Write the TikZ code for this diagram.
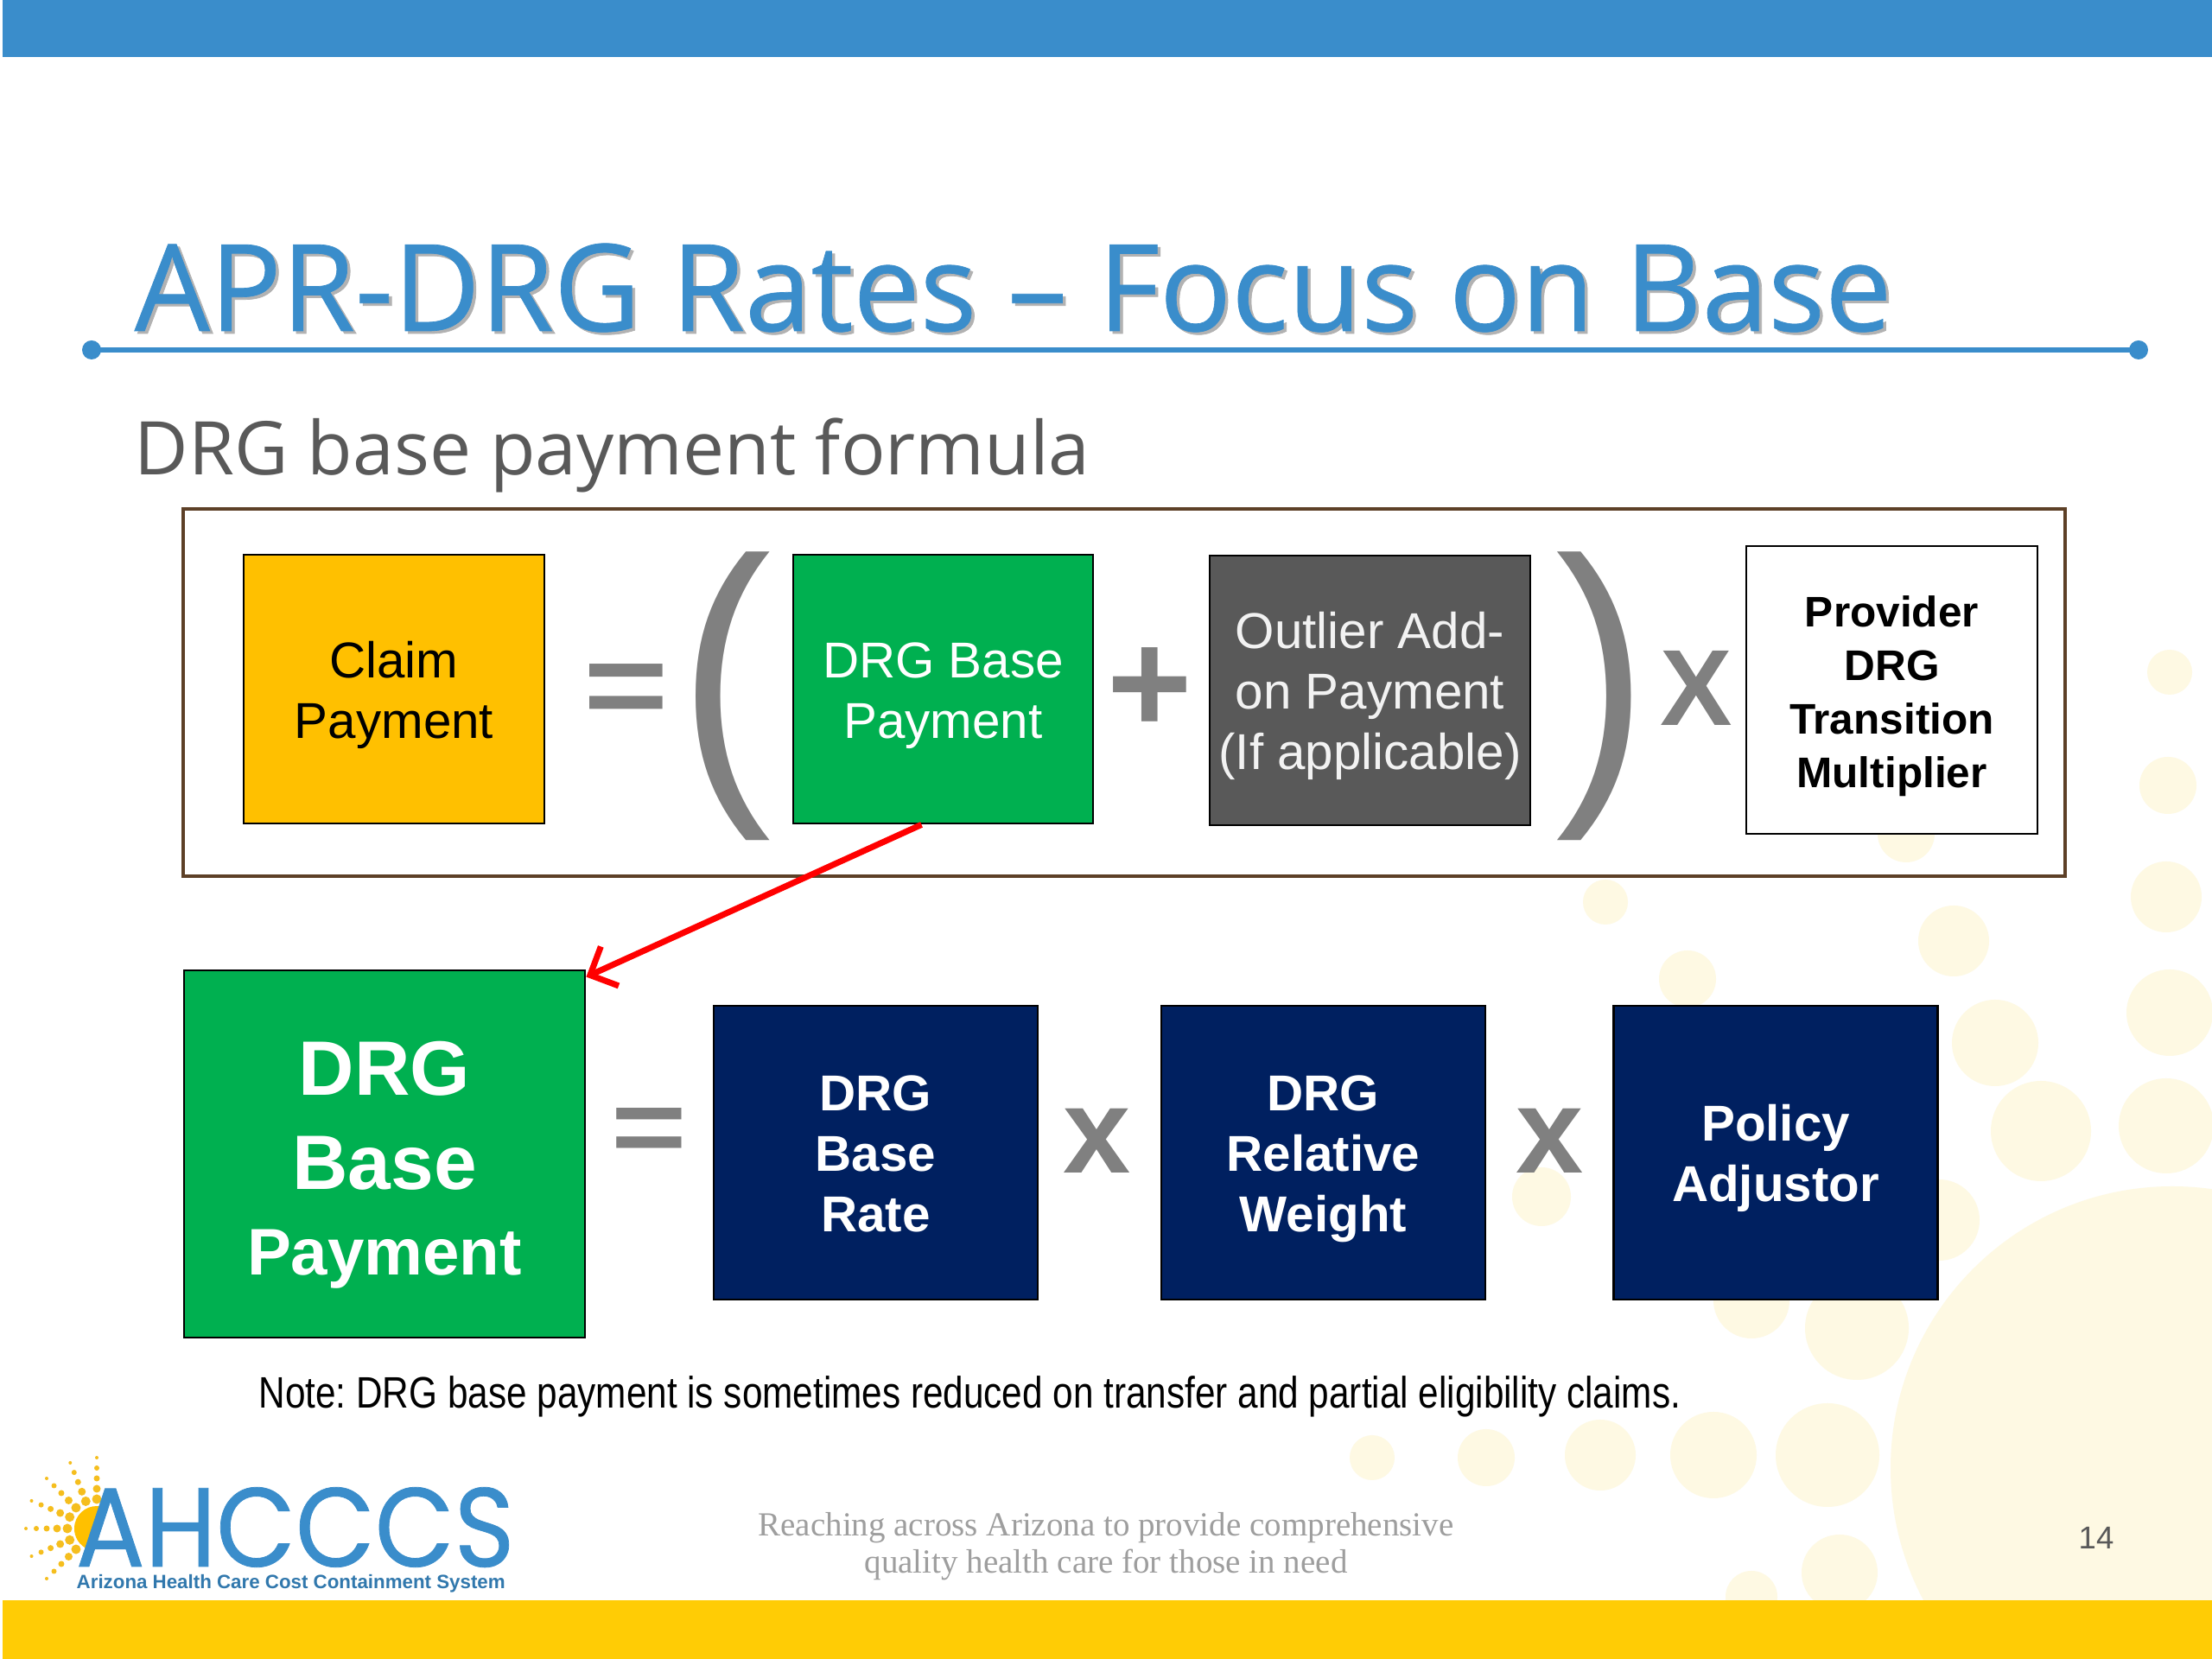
\documentclass[tikz,border=0pt]{standalone}
\usepackage{fontspec}
\setmainfont{Liberation Sans}
\newfontfamily\titlefont[FakeBold=0.5]{Open Sans}
\newfontfamily\subfont{Open Sans}
\newfontfamily\logofont[FakeBold=0.6]{Poppins}
\newfontfamily\footfont{Liberation Serif}
\usepackage{xcolor}
\usetikzlibrary{arrows.meta, calc}

\definecolor{barblue}{HTML}{3A8DCB}
\definecolor{baryellow}{HTML}{FFCC05}
\definecolor{bubble}{HTML}{FEF9E3}
\definecolor{framebrown}{HTML}{5D4027}
\definecolor{claimorange}{HTML}{FFC000}
\definecolor{drggreen}{HTML}{00B050}
\definecolor{outliergray}{HTML}{595959}
\definecolor{ratenavy}{HTML}{002060}
\definecolor{opgray}{HTML}{808080}
\definecolor{sunyellow}{HTML}{F5BE1E}

\newcommand{\boxlines}[2][-2.2pt]{\raisebox{#1}[\height][\depth]{\begin{tabular}{@{}c@{}}#2\end{tabular}}}

\tikzset{
  box/.style={draw=black, line width=0.8pt, inner sep=0pt, align=center},
  smalltext/.style={font=\fontsize{16.6}{19.9}\selectfont},
  navybox/.style={box, fill=ratenavy, text=white, minimum width=3.75cm, minimum height=3.4cm,
    font=\fontsize{16.6}{19.9}\selectfont\bfseries},
  op/.style={text=opgray, inner sep=0pt, font=\bfseries},
}

\begin{document}
\frenchspacing
\begin{tikzpicture}
  \useasboundingbox (0,0) rectangle (25.6,19.2);
  \fill[white] (0,0) rectangle (25.6,19.2);

  % bubbles
  \foreach \bx/\by/\br in {25.11/11.42/0.26, 25.09/10.11/0.33, 25.07/8.82/0.41, 25.11/7.48/0.50,
      25.07/6.17/0.55, 22.61/8.31/0.41, 23.09/7.13/0.50, 23.62/6.11/0.58, 18.58/8.76/0.26,
      19.53/7.87/0.33, 22.06/9.55/0.33, 17.84/5.35/0.34, 22.44/5.08/0.47, 20.27/4.15/0.44,
      21.49/3.83/0.60, 15.88/2.33/0.26, 17.20/2.33/0.33, 18.52/2.36/0.41, 19.83/2.36/0.50,
      21.15/2.36/0.60, 21.29/1.00/0.44, 20.27/0.72/0.30}
    \fill[bubble] (\bx,\by) circle (\br);
  \fill[bubble] (25.14,2.21) circle (3.26);

  % bars
  \fill[barblue] (0.03,18.54) rectangle (25.6,19.2);
  \fill[baryellow] (0.03,0) rectangle (25.6,0.68);

  % title
  \node[anchor=base west, inner sep=0pt, xscale=0.985, transform shape, text=black!30, font=\titlefont\fontsize{39.8}{41}\selectfont]
    (titleshadow) at (1.585,15.34) {APR-DRG Rates – Focus on Base};
  \node[anchor=base west, inner sep=0pt, xscale=0.985, transform shape, text=barblue, font=\titlefont\fontsize{39.8}{41}\selectfont]
    (title) at (1.55,15.37) {APR-DRG Rates – Focus on Base};
  \coordinate (lineleft) at (1.06,15.15);
  \coordinate (lineright) at (24.75,15.15);
  \draw[barblue, line width=1.5pt] (lineleft) -- (lineright);
  \fill[barblue] (lineleft) circle (0.11);
  \fill[barblue] (lineright) circle (0.11);
  \node[anchor=base west, inner sep=0pt, text=outliergray, font=\subfont\fontsize{24.4}{24}\selectfont]
    (subtitle) at (1.55,13.70) {DRG base payment formula};

  % top formula
  \node[draw=framebrown, line width=1.4pt, minimum width=21.78cm, minimum height=4.25cm] (frame) at (13.01,11.185) {};
  \node[box, smalltext, fill=claimorange, minimum width=3.48cm, minimum height=3.11cm] (claim) at (4.56,11.225) {\boxlines{Claim\\Payment}};
  \node[op, yscale=0.82, transform shape, font=\bfseries\fontsize{48}{48}\selectfont] (eqtop) at (7.245,11.15) {=};
  \node[op, xscale=0.9, transform shape, font=\fontsize{102}{102}\selectfont] (parenleft) at (8.39,11.14) {(};
  \node[box, smalltext, fill=drggreen, text=white, minimum width=3.47cm, minimum height=3.11cm] (drgpay) at (10.915,11.225) {\boxlines{DRG Base\\Payment}};
  \node[op, font=\bfseries\fontsize{48}{48}\selectfont] (plus) at (13.305,11.21) {+};
  \node[box, smalltext, fill=outliergray, text=white!95!black, minimum width=3.71cm, minimum height=3.12cm] (outlier) at (15.855,11.21) {\boxlines{Outlier Add-\\on Payment\\(If applicable)}};
  \node[op, xscale=0.9, transform shape, font=\fontsize{102}{102}\selectfont] (parenright) at (18.54,11.14) {)};
  \node[op, font=\bfseries\fontsize{35.6}{35.6}\selectfont] (xtop) at (19.635,11.24) {X};
  \node[box, fill=white, minimum width=3.37cm, minimum height=3.33cm, font=\fontsize{14.1}{17.6}\selectfont\bfseries] (provider) at (21.895,11.215) {\boxlines{Provider\\DRG\\Transition\\Multiplier}};

  % bottom formula
  \node[box, fill=drggreen, text=white, minimum width=4.64cm, minimum height=4.25cm, font=\fontsize{25.4}{30}\selectfont\bfseries] (bigpay) at (4.45,5.845)
    {\boxlines[-4.2pt]{DRG\\[1pt]Base\\[-2pt]{\fontsize{21.7}{30}\selectfont Payment}}};
  \node[op, yscale=0.82, transform shape, font=\bfseries\fontsize{42.7}{42.7}\selectfont] (eqbot) at (7.51,6.05) {=};
  \node[navybox] (rate) at (10.135,5.86) {\boxlines{DRG\\Base\\Rate}};
  \node[op, font=\bfseries\fontsize{40}{40}\selectfont] (xone) at (12.695,6.0) {x};
  \node[navybox] (weight) at (15.315,5.86) {\boxlines{DRG\\Relative\\Weight}};
  \node[op, font=\bfseries\fontsize{40}{40}\selectfont] (xtwo) at (17.935,6.0) {x};
  \node[navybox] (adjust) at (20.55,5.86) {\boxlines{Policy\\Adjustor}};

  % arrow
  \draw[red, line width=2pt, -{Straight Barb[length=2.5mm, width=5mm]}]
    ($(drgpay.south)+(-0.25,0)$) -- ($(bigpay.north east)+(0,-0.09)$);

  % note
  \node[anchor=base west, inner sep=0pt, xscale=0.83, transform shape, font=\fontsize{14.5}{14.5}\selectfont] (note) at (2.99,2.90)
    {Note: DRG base payment is sometimes reduced on transfer and partial eligibility claims.};

  % logo
  \coordinate (suncenter) at (1.12,1.51);
  \foreach \ang in {90,112,135,157,180,203,225}
    \foreach \dist/\rad in {0.82/0.02, 0.70/0.03, 0.58/0.035, 0.46/0.045, 0.34/0.055}
      \fill[sunyellow] ($(suncenter)+(\ang:\dist)$) circle (\rad);
  \fill[claimorange] (1.178,1.763) arc (77:240:0.26) -- cycle;
  \node[anchor=base west, inner sep=0pt, xscale=0.915, transform shape, text=barblue, font=\logofont\fontsize{37}{37}\selectfont] (ahcccs) at (0.87,1.07) {AHCCCS};
  \node[anchor=base west, inner sep=0pt, text=barblue!85!black, font=\fontsize{6.35}{6.35}\selectfont\bfseries] (logosub) at (0.88,0.81) {Arizona Health Care Cost Containment System};

  % footer
  \node[align=center, inner sep=0pt, text=black!38, font=\footfont\fontsize{11.1}{12.2}\selectfont] (footer) at (12.80,1.30)
    {Reaching across Arizona to provide comprehensive\\quality health care for those in need};
  \node[inner sep=0pt, text=outliergray, font=\fontsize{10.4}{10.4}\selectfont] (pagenum) at (24.26,1.40) {14};
\end{tikzpicture}
\end{document}
